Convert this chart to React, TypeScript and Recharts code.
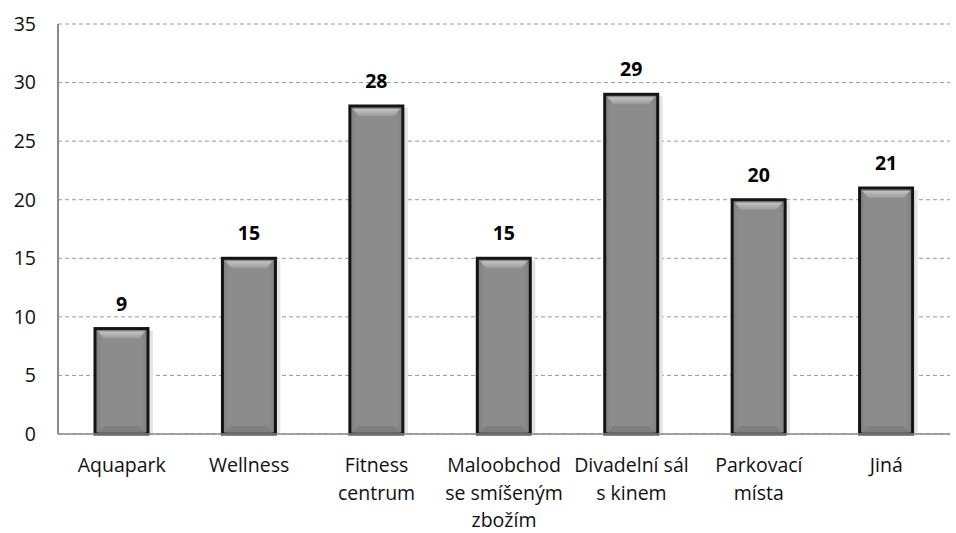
import React from 'react';
import { BarChart, Bar, XAxis, YAxis, CartesianGrid, LabelList } from 'recharts';

const categories = [
    'Aquapark',
    'Wellness',
    'Fitness\ncentrum',
    'Maloobchod\nse smíšeným\nzbožím',
    'Divadelní sál\ns kinem',
    'Parkovací\nmísta',
    'Jiná',
];
const values = [9, 15, 28, 15, 29, 20, 21];
const yTicks = [0, 5, 10, 15, 20, 25, 30, 35];

const data = categories.map((name, i) => ({ name, value: values[i] }));

const FONT = '"Open Sans", sans-serif';

const CategoryTick = (props: any) => {
    const { x, y, payload } = props;
    const lines = String(payload.value).split('\n');
    return (
        <text x={x} y={y + 30} textAnchor="middle" fill="#111" fontFamily={FONT} fontSize={19.5}>
            {lines.map((line, i) => (
                <tspan key={i} x={x} dy={i === 0 ? 0 : 27.5}>
                    {line}
                </tspan>
            ))}
        </text>
    );
};

const BevelBar = (props: any) => {
    const { x, y, width, height } = props;
    if (!height || height <= 0) return null;
    const b = 3;
    return (
        <g>
            <rect x={x + width} y={y + 2} width={5} height={height - 2} fill="#e4e4e4" />
            <rect x={x} y={y} width={width} height={height} fill="url(#barBody)" stroke="#141414" strokeWidth={b} />
            <polygon
                points={`${x + b},${y + b} ${x + width - b},${y + b} ${x + width - 9},${y + 10} ${x + 9},${y + 10}`}
                fill="url(#barTop)"
            />
            <polygon
                points={`${x + 9},${y + height - 8} ${x + width - 9},${y + height - 8} ${x + width - b},${y + height - b / 2} ${x + b},${y + height - b / 2}`}
                fill="#7f7f7f"
            />
        </g>
    );
};

const App: React.FC = () => {
    return (
        <div style={{ position: 'absolute', left: 0, top: 0, background: '#fff' }}>
            <BarChart
                width={956}
                height={533}
                data={data}
                margin={{ top: 24, right: 6, left: 0, bottom: 0 }}
            >
                <defs>
                    <linearGradient id="barBody" x1="0" y1="0" x2="1" y2="0">
                        <stop offset="0%" stopColor="#7d7d7d" />
                        <stop offset="12%" stopColor="#8c8c8c" />
                        <stop offset="88%" stopColor="#8c8c8c" />
                        <stop offset="100%" stopColor="#7d7d7d" />
                    </linearGradient>
                    <linearGradient id="barTop" x1="0" y1="0" x2="0" y2="1">
                        <stop offset="0%" stopColor="#c4c4c4" />
                        <stop offset="100%" stopColor="#9a9a9a" />
                    </linearGradient>
                </defs>
                <CartesianGrid vertical={false} stroke="#9a9a9a" strokeDasharray="4 3" />
                <XAxis
                    dataKey="name"
                    height={99}
                    interval={0}
                    tickLine={false}
                    axisLine={{ stroke: '#8a8a8a', strokeWidth: 1.5 }}
                    tick={<CategoryTick />}
                />
                <YAxis
                    width={58}
                    domain={[0, 35]}
                    ticks={yTicks}
                    interval={0}
                    tickLine={false}
                    tickMargin={16}
                    axisLine={{ stroke: '#8a8a8a', strokeWidth: 2 }}
                    tick={{ fill: '#111', fontFamily: FONT, fontSize: 19.5 }}
                />
                <Bar dataKey="value" barSize={53} shape={<BevelBar />} isAnimationActive={false}>
                    <LabelList
                        dataKey="value"
                        position="top"
                        offset={18}
                        fill="#000"
                        fontFamily={FONT}
                        fontSize={19.5}
                        fontWeight="bold"
                    />
                </Bar>
            </BarChart>
        </div>
    );
};

export default App;
